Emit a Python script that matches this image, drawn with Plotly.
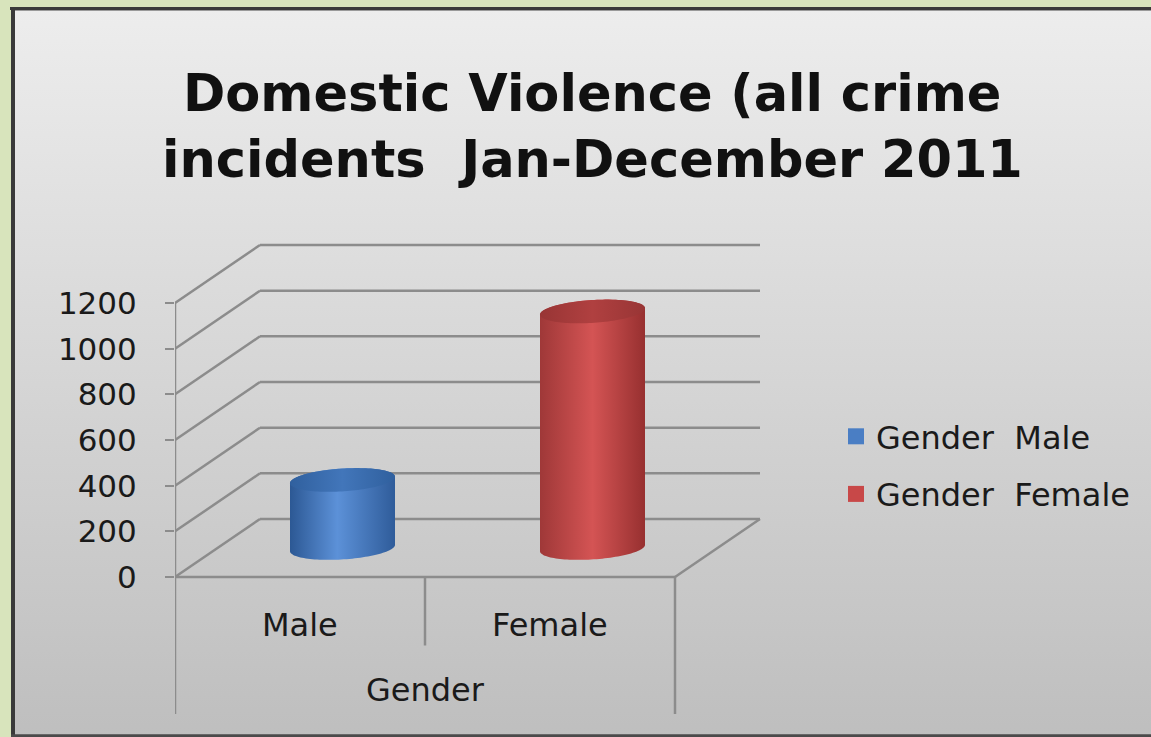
import numpy as np
import plotly.graph_objects as go

# ---------------- data ----------------
categories = ["Male", "Female"]
series_names = ["Gender  Male", "Gender  Female"]
values = [298, 1036]
y_ticks = [0, 200, 400, 600, 800, 1000, 1200]
axis_title = "Gender"
title_lines = ["Domestic Violence (all crime", "incidents  Jan-December 2011"]

# ---------------- styles ----------------
W, H = 1151, 737
FONT = "DejaVu Sans"
TXT = "#1a1a1a"
GRID = "#8c8c8c"
body_scales = [
    [[0, "#2c5894"], [0.45, "#5c91d8"], [1, "#2f5c9a"]],
    [[0, "#9f3838"], [0.5, "#d45454"], [1, "#973030"]],
]
top_scales = [
    [[0, "#30609e"], [0.5, "#4276ba"], [1, "#30609e"]],
    [[0, "#983535"], [0.5, "#b04040"], [1, "#983535"]],
]
legend_colors = ["#4a7ec4", "#c84848"]

# oblique projection parameters (category units / value units)
DX = 0.34
DY = 254.0
PXU = 274.0 / 1200.0          # pixels per value unit
# plot area in pixels
PL, PR, PT, PB = 175, 780, 230, 720
Y0PX = 577                    # pixel row of value 0 on front plane
ymax = (Y0PX - PT) / PXU
ymin = -(PB - Y0PX) / PXU
xmax = (PR - PL) / 250.0

ncat = len(categories)
vmax = y_ticks[-1]

fig = go.Figure()

# ---------- background panel (gradient) ----------
fig.add_trace(go.Scatter(
    x=[13 / W, 1.05, 1.05, 13 / W, 13 / W], y=[-0.05, -0.05, 1 - 9 / H, 1 - 9 / H, -0.05],
    fill="toself", mode="none",
    fillgradient=dict(type="vertical", colorscale=[[0, "#bcbcbc"], [1, "#ededed"]]),
    hoverinfo="skip", showlegend=False, xaxis="x", yaxis="y"))

# ---------- wall / floor / axis lines ----------
lx, ly = [], []
def seg(x0, y0, x1, y1):
    lx.extend([x0, x1, None]); ly.extend([y0, y1, None])

for v in y_ticks:
    seg(0, v, DX, v + DY)                 # left wall diagonal
    seg(DX, v + DY, ncat + DX, v + DY)    # back wall gridline
seg(0, 0, ncat, 0)                        # floor front edge
seg(ncat, 0, ncat + DX, DY)               # floor right edge
seg(0, -600, 0, vmax)                     # front value axis + left divider
seg(ncat, -600, ncat, 0)                  # right divider
for i in range(1, ncat):
    seg(i, -300, i, 0)                    # category divider

fig.add_trace(go.Scatter(x=lx, y=ly, mode="lines",
                         line=dict(color=GRID, width=2.5),
                         hoverinfo="skip", showlegend=False,
                         xaxis="x2", yaxis="y2"))

# ---------- cylinders ----------
R = 0.21       # radius in category units
RY = 50.0      # ellipse half-height in value units
TILT = 14.0    # ellipse tilt in value units
for i, v in enumerate(values):
    xc = i + 0.5 + 0.5 * DX
    yb = 0.5 * DY
    yt = yb + v
    t1 = np.linspace(np.pi, 2 * np.pi, 60)
    t2 = np.linspace(0, np.pi, 60)
    bx = np.concatenate([xc + R * np.cos(t1), xc + R * np.cos(t2)])
    by = np.concatenate([yb + RY * np.sin(t1) + TILT * np.cos(t1),
                         yt + RY * np.sin(t2) + TILT * np.cos(t2)])
    fig.add_trace(go.Scatter(
        x=bx, y=by, fill="toself", mode="none",
        fillgradient=dict(type="horizontal", colorscale=body_scales[i]),
        hoverinfo="skip", showlegend=False, xaxis="x2", yaxis="y2"))
    t = np.linspace(0, 2 * np.pi, 120)
    fig.add_trace(go.Scatter(
        x=xc + R * np.cos(t), y=yt + RY * np.sin(t) + TILT * np.cos(t),
        fill="toself", mode="none",
        fillgradient=dict(type="horizontal", colorscale=top_scales[i]),
        hoverinfo="skip", showlegend=False, xaxis="x2", yaxis="y2"))

# ---------- legend entries ----------
for i, name in enumerate(series_names):
    fig.add_trace(go.Scatter(
        x=[None], y=[None], mode="markers", name=name,
        legendgroup=name,
        marker=dict(symbol="square", size=19, color=legend_colors[i]),
        xaxis="x2", yaxis="y2"))

# ---------- category labels ----------
for i, c in enumerate(categories):
    fig.add_annotation(x=i + 0.5, y=-210, xref="x2", yref="y2", text=c,
                       showarrow=False, font=dict(family=FONT, size=32, color=TXT))
fig.add_annotation(x=ncat / 2, y=-495, xref="x2", yref="y2", text=axis_title,
                   showarrow=False, font=dict(family=FONT, size=32, color=TXT))

# ---------- title ----------
for k, line in enumerate(title_lines):
    fig.add_annotation(x=592 / W, y=1 - (94 + 65 * k) / H, xref="paper", yref="paper",
                       text="<b>" + line + "</b>", showarrow=False,
                       xanchor="center", yanchor="middle",
                       font=dict(family=FONT, size=51, color="#111111"))

# ---------- frame ----------
fig.add_shape(type="line", xref="paper", yref="paper", x0=10 / W, x1=1,
              y0=1 - 8.5 / H, y1=1 - 8.5 / H, line=dict(color="#3a3a3a", width=3), layer="above")
fig.add_shape(type="line", xref="paper", yref="paper", x0=13 / W, x1=1,
              y0=1 - 10.5 / H, y1=1 - 10.5 / H, line=dict(color="#9a9a9a", width=1), layer="above")
fig.add_shape(type="line", xref="paper", yref="paper", x0=13 / W, x1=13 / W,
              y0=0, y1=1 - 7 / H, line=dict(color="#3a3a3a", width=4), layer="above")
fig.add_shape(type="line", xref="paper", yref="paper", x0=11 / W, x1=1,
              y0=1.2 / H, y1=1.2 / H, line=dict(color="#4a4a4a", width=3), layer="above")

fig.update_layout(
    width=W, height=H,
    margin=dict(l=0, r=0, t=0, b=0),
    paper_bgcolor="#d8e4bc",
    plot_bgcolor="rgba(0,0,0,0)",
    xaxis=dict(domain=[0, 1], range=[0, 1], visible=False, fixedrange=True),
    yaxis=dict(domain=[0, 1], range=[0, 1], visible=False, fixedrange=True),
    xaxis2=dict(domain=[PL / W, PR / W], range=[0, xmax], visible=False,
                anchor="y2", fixedrange=True),
    yaxis2=dict(domain=[(H - PB) / H, (H - PT) / H], range=[ymin, ymax],
                anchor="x2", tickvals=y_ticks, ticks="outside", ticklen=9,
                tickwidth=2, tickcolor=GRID, showgrid=False, zeroline=False,
                showline=False, ticklabelstandoff=22,
                tickfont=dict(family=FONT, size=31, color=TXT), fixedrange=True),
    legend=dict(x=836 / W, y=1 - 409 / H, xanchor="left", yanchor="top",
                bgcolor="rgba(0,0,0,0)", traceorder="grouped", tracegroupgap=13,
                font=dict(family=FONT, size=32, color=TXT), itemclick=False),
    showlegend=True,
)

fig.write_html(
    "out.html",
    config={"displayModeBar": False},
    post_script="document.body.style.margin='0';document.body.style.overflow='hidden';",
)
